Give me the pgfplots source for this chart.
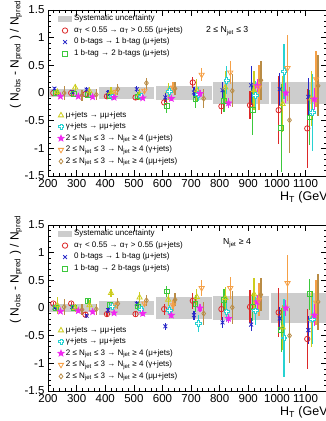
\documentclass[border=0pt]{standalone}
\usepackage{fontspec}
\setmainfont{Liberation Sans}
\usepackage{pgfplots}
\pgfplotsset{compat=1.18}
\usetikzlibrary{plotmarks}
\definecolor{cred}{RGB}{220,40,40}
\definecolor{cblue}{RGB}{40,40,200}
\definecolor{cgreen}{RGB}{60,200,60}
\definecolor{cyellow}{RGB}{205,205,30}
\definecolor{ccyan}{RGB}{40,210,210}
\definecolor{cmag}{RGB}{240,40,240}
\definecolor{corange}{RGB}{245,160,70}
\definecolor{cbrown}{RGB}{185,140,70}
\definecolor{cband}{RGB}{205,205,205}
\pgfdeclareplotmark{fstar}{%
 \pgfpathmoveto{\pgfpointpolar{90}{\pgfplotmarksize}}%
 \pgfpathlineto{\pgfpointpolar{126}{0.42\pgfplotmarksize}}%
 \pgfpathlineto{\pgfpointpolar{162}{\pgfplotmarksize}}%
 \pgfpathlineto{\pgfpointpolar{198}{0.42\pgfplotmarksize}}%
 \pgfpathlineto{\pgfpointpolar{234}{\pgfplotmarksize}}%
 \pgfpathlineto{\pgfpointpolar{270}{0.42\pgfplotmarksize}}%
 \pgfpathlineto{\pgfpointpolar{306}{\pgfplotmarksize}}%
 \pgfpathlineto{\pgfpointpolar{342}{0.42\pgfplotmarksize}}%
 \pgfpathlineto{\pgfpointpolar{18}{\pgfplotmarksize}}%
 \pgfpathlineto{\pgfpointpolar{54}{0.42\pgfplotmarksize}}%
 \pgfpathclose\pgfusepathqfillstroke}
\pgfdeclareplotmark{ocross}{%
 \pgfpathmoveto{\pgfpoint{0.35\pgfplotmarksize}{\pgfplotmarksize}}%
 \pgfpathlineto{\pgfpoint{0.35\pgfplotmarksize}{0.35\pgfplotmarksize}}%
 \pgfpathlineto{\pgfpoint{\pgfplotmarksize}{0.35\pgfplotmarksize}}%
 \pgfpathlineto{\pgfpoint{\pgfplotmarksize}{-0.35\pgfplotmarksize}}%
 \pgfpathlineto{\pgfpoint{0.35\pgfplotmarksize}{-0.35\pgfplotmarksize}}%
 \pgfpathlineto{\pgfpoint{0.35\pgfplotmarksize}{-\pgfplotmarksize}}%
 \pgfpathlineto{\pgfpoint{-0.35\pgfplotmarksize}{-\pgfplotmarksize}}%
 \pgfpathlineto{\pgfpoint{-0.35\pgfplotmarksize}{-0.35\pgfplotmarksize}}%
 \pgfpathlineto{\pgfpoint{-\pgfplotmarksize}{-0.35\pgfplotmarksize}}%
 \pgfpathlineto{\pgfpoint{-\pgfplotmarksize}{0.35\pgfplotmarksize}}%
 \pgfpathlineto{\pgfpoint{-0.35\pgfplotmarksize}{0.35\pgfplotmarksize}}%
 \pgfpathlineto{\pgfpoint{-0.35\pgfplotmarksize}{\pgfplotmarksize}}%
 \pgfpathclose\pgfusepathqfillstroke}
\pgfplotsset{
 ser/.style={only marks, color=#1,
   every mark/.append style={fill=white, line width=0.8pt, solid},
   /pgfplots/error bars/y dir=both, /pgfplots/error bars/y explicit,
   /pgfplots/error bars/error mark=none,
   /pgfplots/error bars/error bar style={line width=1.3pt, color=#1}},
 sred/.style={ser=cred, mark=o, mark size=2.7pt},
 sblue/.style={ser=cblue, mark=x, mark size=2.7pt},
 sgreen/.style={ser=cgreen, mark=square, mark size=2.4pt},
 syellow/.style={ser=cyellow, mark=triangle, mark size=3pt},
 scyan/.style={ser=ccyan, mark=ocross, mark size=2.8pt},
 smag/.style={ser=cmag, mark=fstar, mark size=3.1pt, every mark/.append style={fill=cmag}},
 sorange/.style={ser=corange, mark=triangle, mark size=3pt, every mark/.append style={rotate=180}},
 sbrown/.style={ser=cbrown, mark=diamond, mark size=2.5pt},
 panel/.style={
   width=279pt, height=166pt, scale only axis,
   xmin=200, xmax=1175, ymin=-1.5, ymax=1.5,
   xtick={200,300,400,500,600,700,800,900,1000,1100},
   ytick={-1.5,-1,-0.5,0,0.5,1,1.5},
   minor x tick num=4, minor y tick num=4,
   tick align=inside, major tick length=6pt, minor tick length=3pt,
   tick style={black, line width=0.5pt},
   axis line style={line width=0.6pt},
   tick label style={font=\fontsize{11.5}{12}\selectfont},
   /pgf/number format/assume math mode=true,
   /pgf/number format/1000 sep={},
   scaled ticks=false,
   xlabel={H\textsubscript{T} (GeV)},
   xlabel style={font=\fontsize{12.5}{13}\selectfont, at={(axis description cs:1.03,-0.126)}, anchor=east},
   ylabel={( N\textsubscript{obs} - N\textsubscript{pred} ) / N\textsubscript{pred}},
   ylabel style={font=\fontsize{12}{13}\selectfont, at={(axis description cs:-0.115,1.078)}, anchor=east},
   legend image code/.code={\draw[mark repeat=2,mark phase=2,##1] plot coordinates {(0pt,0pt) (7pt,0pt) (14pt,0pt)};},
   legend cell align=left,
   legend style={draw=none, fill=none, font=\fontsize{8}{8}\selectfont, inner sep=0pt, outer sep=0pt,
     row sep=3.3pt, column sep=2pt, nodes={inner sep=0pt, text height=6pt, text depth=2.2pt}},
 },
 bandleg/.style={legend image code/.code={\fill[cband] (0pt,-3.3pt) rectangle (14pt,3.3pt);}},
}
\begin{document}
\begin{tikzpicture}
% ---------------- Panel 1 ----------------
\begin{axis}[panel, at={(48pt,245pt)}, anchor=south west,
  legend style={at={(axis description cs:0.036,0.97)}, anchor=north west}]
\addplot[fill=cband, draw=none, bandleg] coordinates {(202,-0.075) (372,-0.075) (372,0.075) (202,0.075)} -- cycle;
\addlegendentry{Systematic uncertainty}
\addplot[fill=cband, draw=none, forget plot] coordinates {(378,-0.1) (572,-0.1) (572,0.1) (378,0.1)} -- cycle;
\addplot[fill=cband, draw=none, forget plot] coordinates {(578,-0.13) (772,-0.13) (772,0.13) (578,0.13)} -- cycle;
\addplot[fill=cband, draw=none, forget plot] coordinates {(778,-0.2) (972,-0.2) (972,0.2) (778,0.2)} -- cycle;
\addplot[fill=cband, draw=none, forget plot] coordinates {(978,-0.2) (1175,-0.2) (1175,0.2) (978,0.2)} -- cycle;
\addplot[sred] table[x=x,y=y,y error=e] {
x y e
218.5 0.00 0.03
281 0.00 0.03
331 -0.02 0.04
406 -0.06 0.04
506 -0.08 0.05
606 -0.17 0.08
706 0.19 0.10
806 -0.24 0.14
906 -0.22 0.25
1006 -0.31 0.62
1106 -0.64 0.72
};
\addlegendentry{α\textsubscript{T} < 0.55 → α\textsubscript{T} > 0.55 (μ+jets)}
\addplot[sblue] table[x=x,y=y,y error=e] {
x y e
222.5 0.08 0.03
285 0.02 0.03
335 0.06 0.04
410 0.00 0.05
510 0.07 0.05
610 -0.08 0.08
710 0.01 0.10
810 0.05 0.15
910 0.14 0.35
1010 0.07 0.30
1110 -0.07 0.35
};
\addlegendentry{0 b-tags → 1 b-tag (μ+jets)}
\addplot[sgreen] table[x=x,y=y,y error=e] {
x y e
227.5 0.00 0.04
290 -0.02 0.04
340 -0.03 0.05
415 -0.05 0.06
515 -0.06 0.07
615 -0.23 0.13
715 -0.10 0.17
815 -0.15 0.20
915 -0.31 0.45
1015 -0.63 0.80
1115 -0.44 0.50
};
\addlegendentry{1 b-tag → 2 b-tags (μ+jets)}
\addplot[syellow] table[x=x,y=y,y error=e] {
x y e
232.5 0.02 0.05
295 0.10 0.06
345 0.03 0.07
420 0.02 0.08
520 -0.02 0.10
620 0.03 0.15
720 0.05 0.20
820 0.10 0.30
920 0.05 0.35
1020 -0.20 0.50
1120 -0.10 0.50
};
\addplot[scyan] table[x=x,y=y,y error=e] {
x y e
425 -0.07 0.05
525 -0.06 0.06
625 0.03 0.10
725 -0.02 0.12
825 0.23 0.25
925 -0.04 0.25
1025 0.39 0.50
1125 -0.35 0.70
};
\addplot[smag] table[x=x,y=y,y error=e] {
x y e
243.5 -0.06 0.02
306 -0.06 0.02
356 -0.07 0.03
431 -0.08 0.03
531 -0.09 0.04
631 -0.10 0.05
731 -0.01 0.07
831 -0.18 0.09
931 0.13 0.12
1031 0.00 0.18
1131 -0.11 0.20
};
\addplot[sorange] table[x=x,y=y,y error=e] {
x y e
437 0.02 0.04
537 0.04 0.05
637 0.10 0.10
737 0.33 0.12
837 0.37 0.20
937 0.10 0.40
1037 0.45 0.60
1137 0.25 0.50
};
\addplot[sbrown] table[x=x,y=y,y error=e] {
x y e
256.5 0.00 0.12
319 -0.04 0.10
369 -0.03 0.10
444 0.07 0.10
544 0.18 0.10
644 0.08 0.12
744 -0.10 0.18
844 0.04 0.30
944 0.23 0.35
1044 -0.49 0.60
1144 0.13 0.55
};
\node[anchor=base west, font=\bfseries\fontsize{11.7}{12}\selectfont, inner sep=0pt] at (rel axis cs:0,1) [yshift=5pt] {CMS};
\node[anchor=base west, font=\fontsize{10.5}{11}\selectfont, inner sep=0pt] at (rel axis cs:0,1) [xshift=212pt, yshift=6pt] {18.5 fb\textsuperscript{-1} (8 TeV)};
\node[anchor=west, font=\fontsize{8.7}{9}\selectfont, inner sep=0pt] at (rel axis cs:0,1) [xshift=158pt, yshift=-21pt] {2 ≤ N\textsubscript{jet} ≤ 3};
\end{axis}
\begin{axis}[panel, at={(48pt,245pt)}, anchor=south west, hide axis,
  legend style={at={(axis description cs:0.036,0.39)}, anchor=north west}]
\addlegendimage{syellow}
\addlegendentry{μ+jets → μμ+jets}
\addlegendimage{scyan}
\addlegendentry{γ+jets → μμ+jets}
\addlegendimage{smag}
\addlegendentry{2 ≤ N\textsubscript{jet} ≤ 3 → N\textsubscript{jet} ≥ 4 (μ+jets)}
\addlegendimage{sorange}
\addlegendentry{2 ≤ N\textsubscript{jet} ≤ 3 → N\textsubscript{jet} ≥ 4 (γ+jets)}
\addlegendimage{sbrown}
\addlegendentry{2 ≤ N\textsubscript{jet} ≤ 3 → N\textsubscript{jet} ≥ 4 (μμ+jets)}
\end{axis}
% ---------------- Panel 2 ----------------
\begin{axis}[panel, at={(48pt,30pt)}, anchor=south west,
  legend style={at={(axis description cs:0.036,0.97)}, anchor=north west}]
\addplot[fill=cband, draw=none, bandleg] coordinates {(202,-0.08) (372,-0.08) (372,0.08) (202,0.08)} -- cycle;
\addlegendentry{Systematic uncertainty}
\addplot[fill=cband, draw=none, forget plot] coordinates {(378,-0.12) (572,-0.12) (572,0.12) (378,0.12)} -- cycle;
\addplot[fill=cband, draw=none, forget plot] coordinates {(578,-0.2) (772,-0.2) (772,0.2) (578,0.2)} -- cycle;
\addplot[fill=cband, draw=none, forget plot] coordinates {(778,-0.21) (972,-0.21) (972,0.21) (778,0.21)} -- cycle;
\addplot[fill=cband, draw=none, forget plot] coordinates {(978,-0.27) (1175,-0.27) (1175,0.27) (978,0.27)} -- cycle;
\addplot[sred] table[x=x,y=y,y error=e] {
x y e
218.5 0.08 0.03
281 0.08 0.03
331 -0.12 0.04
406 -0.11 0.05
506 -0.11 0.06
606 -0.02 0.10
706 0.13 0.14
806 -0.02 0.20
906 0.02 0.30
1006 -0.08 0.45
1106 -0.56 0.55
};
\addlegendentry{α\textsubscript{T} < 0.55 → α\textsubscript{T} > 0.55 (μ+jets)}
\addplot[sblue] table[x=x,y=y,y error=e] {
x y e
222.5 0.01 0.03
285 0.02 0.03
335 -0.14 0.04
410 -0.04 0.05
510 0.08 0.05
610 -0.33 0.06
710 -0.13 0.08
810 -0.26 0.10
910 -0.30 0.12
1010 -0.19 0.20
1110 -0.40 0.25
};
\addlegendentry{0 b-tags → 1 b-tag (μ+jets)}
\addplot[sgreen] table[x=x,y=y,y error=e] {
x y e
227.5 0.00 0.04
290 0.00 0.04
340 0.13 0.05
415 0.05 0.06
515 0.03 0.07
615 0.30 0.10
715 0.08 0.15
815 0.14 0.20
915 0.02 0.25
1015 -0.40 0.40
1115 0.25 0.28
};
\addlegendentry{1 b-tag → 2 b-tags (μ+jets)}
\addplot[syellow] table[x=x,y=y,y error=e] {
x y e
232.5 0.05 0.15
295 0.00 0.08
345 0.05 0.10
420 0.27 0.08
520 0.19 0.10
620 0.15 0.12
720 0.20 0.15
820 0.18 0.20
920 0.25 0.30
1020 -0.35 0.40
1120 -0.20 0.50
};
\addplot[scyan] table[x=x,y=y,y error=e] {
x y e
425 0.03 0.05
525 -0.02 0.06
625 -0.04 0.10
725 -0.28 0.15
825 -0.07 0.18
925 -0.05 0.25
1025 -0.54 0.70
1125 -0.20 0.45
};
\addplot[smag] table[x=x,y=y,y error=e] {
x y e
243.5 -0.06 0.02
306 -0.05 0.02
356 -0.07 0.03
431 -0.09 0.03
531 -0.10 0.04
631 -0.13 0.05
731 0.00 0.07
831 -0.19 0.09
931 0.11 0.12
1031 0.00 0.15
1131 -0.13 0.20
};
\addplot[sorange] table[x=x,y=y,y error=e] {
x y e
437 0.05 0.05
537 0.08 0.06
637 0.05 0.10
737 0.36 0.15
837 0.36 0.20
937 0.15 0.30
1037 0.45 0.50
1137 0.10 0.40
};
\addplot[sbrown] table[x=x,y=y,y error=e] {
x y e
256.5 0.02 0.14
319 -0.03 0.10
369 -0.02 0.10
444 0.08 0.10
544 0.14 0.10
644 0.15 0.12
744 -0.10 0.20
844 0.01 0.30
944 0.24 0.30
1044 -0.50 0.50
1144 0.11 0.50
};
\node[anchor=base west, font=\bfseries\fontsize{11.7}{12}\selectfont, inner sep=0pt] at (rel axis cs:0,1) [yshift=6pt] {CMS};
\node[anchor=base west, font=\fontsize{10.5}{11}\selectfont, inner sep=0pt] at (rel axis cs:0,1) [xshift=212pt, yshift=6pt] {18.5 fb\textsuperscript{-1} (8 TeV)};
\node[anchor=west, font=\fontsize{8.7}{9}\selectfont, inner sep=0pt] at (rel axis cs:0,1) [xshift=175pt, yshift=-18pt] {N\textsubscript{jet} ≥ 4};
\end{axis}
\begin{axis}[panel, at={(48pt,30pt)}, anchor=south west, hide axis,
  legend style={at={(axis description cs:0.036,0.39)}, anchor=north west}]
\addlegendimage{syellow}
\addlegendentry{μ+jets → μμ+jets}
\addlegendimage{scyan}
\addlegendentry{γ+jets → μμ+jets}
\addlegendimage{smag}
\addlegendentry{2 ≤ N\textsubscript{jet} ≤ 3 → N\textsubscript{jet} ≥ 4 (μ+jets)}
\addlegendimage{sorange}
\addlegendentry{2 ≤ N\textsubscript{jet} ≤ 3 → N\textsubscript{jet} ≥ 4 (γ+jets)}
\addlegendimage{sbrown}
\addlegendentry{2 ≤ N\textsubscript{jet} ≤ 3 → N\textsubscript{jet} ≥ 4 (μμ+jets)}
\end{axis}
\pgfresetboundingbox
\useasboundingbox (0,0) rectangle (326pt,421pt);
\end{tikzpicture}
\end{document}
